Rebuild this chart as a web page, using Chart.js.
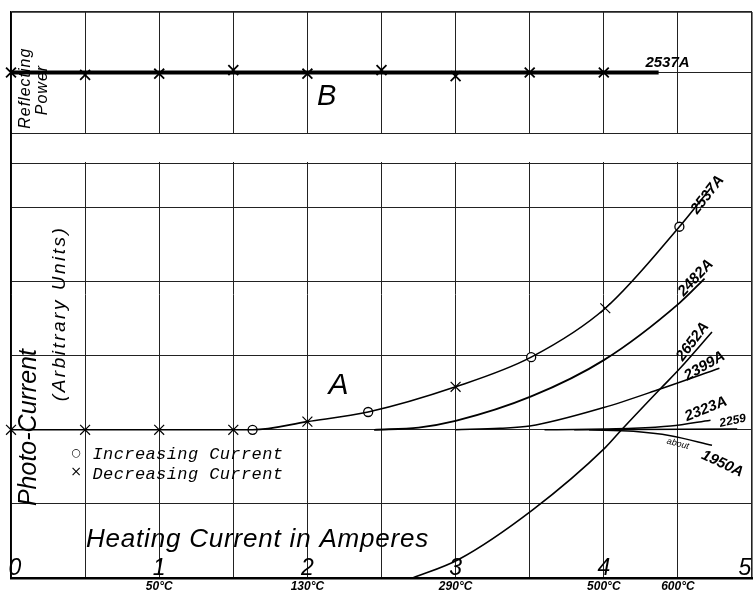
<!doctype html>
<html lang="en">
<head>
<meta charset="UTF-8">
<title>Photo-Current and Reflecting Power vs Heating Current</title>
<script src="https://cdn.jsdelivr.net/npm/chart.js"></script>
<style>
  html, body { margin: 0; padding: 0; background: #fff; }
  canvas { display: block; }
</style>
</head>
<body>
<canvas id="grafico" width="754" height="594"></canvas>
<script>
// B: reflecting power at 2537A (top panel, arbitrary units, grid line = 1)
const bX = [0, 0.5, 1, 1.5, 2, 2.5, 3, 3.5, 4];
const bY = [1.0, 0.96, 0.98, 1.04, 0.98, 1.04, 0.94, 1.0, 1.0];
const bLineX = [0, 4.37];
const bLineY = [1, 1];

// A: photo-current curves (one grid square = 1 unit)
const c2537X = [0, 0.5, 1, 1.5, 1.63, 2, 2.41, 3, 3.51, 4.01, 4.51, 4.72];
const c2537Y = [0, 0, 0, 0, 0, 0.11, 0.24, 0.58, 0.98, 1.64, 2.74, 3.26];
const c2482X = [2.45, 2.75, 3.0, 3.51, 4.0, 4.51, 4.68];
const c2482Y = [0, 0.03, 0.12, 0.45, 0.94, 1.71, 2.04];
const c2652X = [2.71, 3.02, 3.52, 4.01, 4.12, 4.38, 4.51, 4.73];
const c2652Y = [-2, -1.75, -1.08, -0.24, 0, 0.55, 0.82, 1.32];
const c2399X = [3.0, 3.3, 3.5, 4.0, 4.38, 4.78];
const c2399Y = [0, 0.02, 0.05, 0.30, 0.55, 0.83];
const c2323X = [3.6, 4.2, 4.45, 4.72];
const c2323Y = [0, 0.02, 0.05, 0.13];
const c2259X = [3.8, 4.9];
const c2259Y = [0, 0.01];
const c1950X = [3.9, 4.2, 4.45, 4.73];
const c1950Y = [0, -0.02, -0.08, -0.21];

// measured points on the 2537A curve
const incX = [1.63, 2.41, 3.51, 4.51];
const incY = [0, 0.24, 0.98, 2.74];
const decX = [0, 0.5, 1, 1.5, 2, 3, 4.01];
const decY = [0, 0, 0, 0, 0.11, 0.58, 1.64];

// axis labels
const ampTicks = [0, 1, 2, 3, 4, 5];
const tempAt = [1, 2, 3, 4, 4.5];
const tempLabels = ['50°C', '130°C', '290°C', '500°C', '600°C'];
const gridA = [-2, -1, 0, 1, 2, 3, 3.6];
const gridB = [0, 1, 2];

const pts = (xs, ys) => xs.map((x, i) => ({x: x, y: ys[i]}));

const curve = (xs, ys, w) => ({
    data: pts(xs, ys),
    yAxisID: 'yA',
    showLine: true,
    borderColor: '#000',
    borderWidth: w || 1.6,
    pointRadius: 0,
    cubicInterpolationMode: 'monotone',
    clip: false
});

const notes = {
    id: 'notes',
    beforeDatasetsDraw(chart) {
        // empty strip between the two panels
        const {ctx, chartArea} = chart;
        const g = chart.scales.yGap;
        ctx.save();
        ctx.fillStyle = '#fff';
        ctx.fillRect(chartArea.left + 1.5, g.top + 1, chartArea.right - chartArea.left - 3, g.bottom - g.top - 2);
        ctx.restore();
    },
    afterDraw(chart) {
        const ctx = chart.ctx;
        const sx = chart.scales.x, sA = chart.scales.yA, sB = chart.scales.yB;
        const put = (text, px, py, font, angle, align, base, spacing) => {
            ctx.save();
            ctx.translate(px, py);
            ctx.rotate((angle || 0) * Math.PI / 180);
            ctx.font = font;
            ctx.letterSpacing = spacing || '0px';
            ctx.fillStyle = '#000';
            ctx.textAlign = align || 'center';
            ctx.textBaseline = base || 'middle';
            ctx.fillText(text, 0, 0);
            ctx.restore();
        };
        const hand = 'italic 300 ';
        const fam = '"Liberation Sans", Arial, sans-serif';
        const bold = 'italic bold 15px ' + fam;

        // top panel
        put('Reflecting', sx.getPixelForValue(0.095), sB.getPixelForValue(0.74), hand + '16px ' + fam, -90, 'center', 'middle', '1px');
        put('Power', sx.getPixelForValue(0.215), sB.getPixelForValue(0.71), hand + '16px ' + fam, -90, 'center', 'middle', '1px');
        put('B', sx.getPixelForValue(2.13), sB.getPixelForValue(0.6), hand + '29px ' + fam);
        put('2537A', sx.getPixelForValue(4.43), sB.getPixelForValue(1.16), bold);

        // bottom panel
        put('Photo-Current', sx.getPixelForValue(0.12), sA.getPixelForValue(0.03), hand + '25px ' + fam, -90);
        put('(Arbitrary Units)', sx.getPixelForValue(0.33), sA.getPixelForValue(1.57), hand + '19px ' + fam, -90, 'center', 'middle', '2.5px');
        put('A', sx.getPixelForValue(2.21), sA.getPixelForValue(0.59), hand + '30px ' + fam);

        const mono = 'italic 17px "Liberation Mono", monospace';
        put('○', sx.getPixelForValue(0.44), sA.getPixelForValue(-0.32), '11px "DejaVu Sans"');
        put('×', sx.getPixelForValue(0.44), sA.getPixelForValue(-0.58), '14px "DejaVu Sans"');
        put('Increasing Current', sx.getPixelForValue(0.55), sA.getPixelForValue(-0.34), mono, 0, 'left', 'middle', '0.4px');
        put('Decreasing Current', sx.getPixelForValue(0.55), sA.getPixelForValue(-0.61), mono, 0, 'left', 'middle', '0.4px');

        put('Heating Current in Amperes', sx.getPixelForValue(0.506), sA.getPixelForValue(-1.58), hand + '26px ' + fam, 0, 'left', 'alphabetic', '0.8px');

        ampTicks.forEach(v => {
            let px = sx.getPixelForValue(v);
            if (v === 0) px += 4;
            if (v === 5) px -= 7;
            put(String(v), px, sA.getPixelForValue(-1.96), hand + '23px ' + fam, 0, 'center', 'alphabetic');
        });
        tempAt.forEach((v, i) => {
            put(tempLabels[i], sx.getPixelForValue(v), sA.getPixelForValue(-2) + 9, 'italic bold 12px ' + fam);
        });

        // wavelength of each curve
        put('2537A', sx.getPixelForValue(4.70), sA.getPixelForValue(3.17), bold, -52);
        put('2482A', sx.getPixelForValue(4.62), sA.getPixelForValue(2.05), bold, -47);
        put('2652A', sx.getPixelForValue(4.60), sA.getPixelForValue(1.19), bold, -53);
        put('2399A', sx.getPixelForValue(4.68), sA.getPixelForValue(0.86), bold, -30);
        put('2323A', sx.getPixelForValue(4.69), sA.getPixelForValue(0.28), bold, -22);
        put('2259', sx.getPixelForValue(4.87), sA.getPixelForValue(0.12), 'italic bold 12px ' + fam, -12);
        put('about', sx.getPixelForValue(4.50), sA.getPixelForValue(-0.19), 'italic 9px ' + fam, 14);
        put('1950A', sx.getPixelForValue(4.80), sA.getPixelForValue(-0.46), bold, 25);
    }
};

const ctx = document.getElementById('grafico');

new Chart(ctx, {
    type: 'scatter',
    data: {
        datasets: [
            {
                data: pts(bLineX, bLineY), yAxisID: 'yB', showLine: true,
                borderColor: '#000', borderWidth: 4, pointRadius: 0, clip: false
            },
            {
                data: pts(bX, bY), yAxisID: 'yB', pointStyle: 'crossRot', pointRadius: 7,
                borderColor: '#000', borderWidth: 1.8, clip: false
            },
            curve(c2537X, c2537Y, 1.6),
            curve(c2482X, c2482Y, 1.8),
            curve(c2652X, c2652Y, 1.6),
            curve(c2399X, c2399Y, 1.5),
            curve(c2323X, c2323Y, 1.5),
            curve(c2259X, c2259Y, 1.5),
            curve(c1950X, c1950Y, 1.5),
            {
                data: pts(decX, decY), yAxisID: 'yA', pointStyle: 'crossRot', pointRadius: 7,
                borderColor: '#000', borderWidth: 1.2, clip: false
            },
            {
                data: pts(incX, incY), yAxisID: 'yA', pointStyle: 'circle', pointRadius: 4.5,
                backgroundColor: '#fff', borderColor: '#000', borderWidth: 1.3, clip: false
            }
        ]
    },
    options: {
        responsive: false,
        animation: false,
        layout: { autoPadding: false, padding: { left: 11, right: 2, top: 12, bottom: 16 } },
        plugins: { legend: { display: false }, tooltip: { enabled: false } },
        scales: {
            x: {
                type: 'linear', min: 0, max: 5,
                ticks: { display: false, stepSize: 0.5 },
                grid: {
                    drawTicks: false, color: '#222',
                    lineWidth: c => (c.tick && c.tick.value === 5 ? 1.6 : 1)
                },
                border: { display: true, color: '#000', width: 2.5 }
            },
            yA: {
                type: 'linear', position: 'left', stack: 'panels', stackWeight: 415,
                min: -2, max: 3.6,
                afterBuildTicks: s => { s.ticks = gridA.map(v => ({value: v})); },
                ticks: { display: false },
                grid: { drawTicks: false, color: '#222' },
                border: { display: true, color: '#000', width: 1.6 }
            },
            yGap: {
                type: 'linear', position: 'left', stack: 'panels', stackWeight: 30,
                min: 0, max: 1,
                afterBuildTicks: s => { s.ticks = [{value: 0}, {value: 1}]; },
                ticks: { display: false },
                grid: { drawTicks: false, color: '#222' },
                border: { display: true, color: '#000', width: 1.6 }
            },
            yB: {
                type: 'linear', position: 'left', stack: 'panels', stackWeight: 121,
                min: 0, max: 2,
                afterBuildTicks: s => { s.ticks = gridB.map(v => ({value: v})); },
                ticks: { display: false },
                grid: {
                    drawTicks: false, color: '#222',
                    lineWidth: c => (c.tick && c.tick.value === 2 ? 1.8 : 1)
                },
                border: { display: true, color: '#000', width: 1.6 }
            }
        }
    },
    plugins: [notes]
});
</script>
</body>
</html>
